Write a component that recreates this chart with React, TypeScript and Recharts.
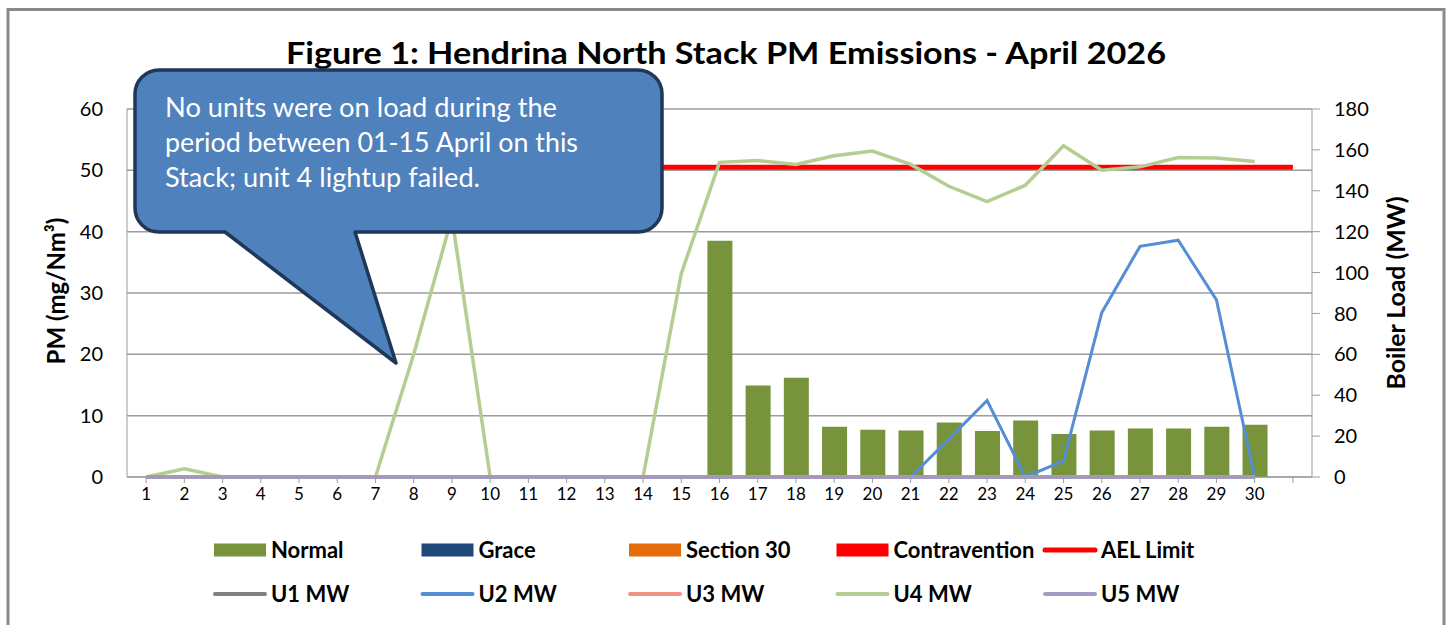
import { ComposedChart, Bar, Line, XAxis, YAxis, CartesianGrid } from 'recharts'

const days = ['1', '2', '3', '4', '5', '6', '7', '8', '9', '10', '11', '12', '13', '14', '15', '16', '17', '18', '19', '20', '21', '22', '23', '24', '25', '26', '27', '28', '29', '30', '']

// PM (mg/Nm3), left axis
const normal = [null, null, null, null, null, null, null, null, null, null, null, null, null, null, null, 38.5, 14.9, 16.2, 8.2, 7.7, 7.6, 8.9, 7.5, 9.2, 7.0, 7.6, 7.9, 7.9, 8.2, 8.5, null]
const grace = [null, null, null, null, null, null, null, null, null, null, null, null, null, null, null, null, null, null, null, null, null, null, null, null, null, null, null, null, null, null, null]
const section30 = [null, null, null, null, null, null, null, null, null, null, null, null, null, null, null, null, null, null, null, null, null, null, null, null, null, null, null, null, null, null, null]
const contravention = [null, null, null, null, null, null, null, null, null, null, null, null, null, null, null, null, null, null, null, null, null, null, null, null, null, null, null, null, null, null, null]
const aelLimit = [50.5, 50.5, 50.5, 50.5, 50.5, 50.5, 50.5, 50.5, 50.5, 50.5, 50.5, 50.5, 50.5, 50.5, 50.5, 50.5, 50.5, 50.5, 50.5, 50.5, 50.5, 50.5, 50.5, 50.5, 50.5, 50.5, 50.5, 50.5, 50.5, 50.5, 50.5]

// boiler load (MW), right axis
const u1 = [0, 0, 0, 0, 0, 0, 0, 0, 0, 0, 0, 0, 0, 0, 0, 0, 0, 0, 0, 0, 0, 0, 0, 0, 0, 0, 0, 0, 0, 0, null]
const u2 = [0, 0, 0, 0, 0, 0, 0, 0, 0, 0, 0, 0, 0, 0, 0, 0, 0, 0, 0, 0, 0, 18.5, 37.4, 0, 7.9, 80.4, 112.8, 115.8, 86.6, 0, null]
const u3 = [0, 0, 0, 0, 0, 0, 0, 0, 0, 0, 0, 0, 0, 0, 0, 0, 0, 0, 0, 0, 0, 0, 0, 0, 0, 0, 0, 0, 0, 0, null]
const u4 = [0, 4, 0, 0, 0, 0, 0, 60, 127, 0, 0, 0, 0, 0, 99.5, 153.9, 154.8, 152.9, 157.1, 159.4, 152.9, 142.2, 134.7, 142.7, 162, 150.1, 151.7, 156.3, 156, 154.3, null]
const u5 = [0, 0, 0, 0, 0, 0, 0, 0, 0, 0, 0, 0, 0, 0, 0, 0, 0, 0, 0, 0, 0, 0, 0, 0, 0, 0, 0, 0, 0, 0, null]

const pmTicks = [0, 10, 20, 30, 40, 50, 60]
const mwTicks = [0, 20, 40, 60, 80, 100, 120, 140, 160, 180]

const title = 'Figure 1: Hendrina North Stack PM Emissions - April 2026'
const calloutLines = ['No units were on load during the', 'period between 01-15 April on this', 'Stack; unit 4 lightup failed.']
const calloutWidths = [392, 413, 315]

const data = days.map((day, i) => ({
  day,
  normal: normal[i],
  grace: grace[i],
  section30: section30[i],
  contravention: contravention[i],
  ael: aelLimit[i],
  u1: u1[i],
  u2: u2[i],
  u3: u3[i],
  u4: u4[i],
  u5: u5[i],
}))

const legendTop = [
  { name: 'Normal', color: '#77933C', kind: 'box' },
  { name: 'Grace', color: '#1F497D', kind: 'box' },
  { name: 'Section 30', color: '#E46C0A', kind: 'box' },
  { name: 'Contravention', color: '#FF0000', kind: 'box' },
  { name: 'AEL Limit', color: '#FF0000', kind: 'line' },
]
const legendBottom = [
  { name: 'U1 MW', color: '#808080', kind: 'line' },
  { name: 'U2 MW', color: '#558ED5', kind: 'line' },
  { name: 'U3 MW', color: '#F39483', kind: 'line' },
  { name: 'U4 MW', color: '#B5CC92', kind: 'line' },
  { name: 'U5 MW', color: '#A69AC4', kind: 'line' },
]

const GRID = '#9c9c9c'

function LegendRow({ items, y }: { items: typeof legendTop; y: number }) {
  return (
    <g>
      {items.map((it, i) => {
        const x = 214 + i * 207.5
        return (
          <g key={it.name}>
            {it.kind === 'box'
              ? <rect x={x} y={y - 6.5} width={52} height={13} fill={it.color} />
              : <line x1={x + 1} x2={x + 51} y1={y} y2={y} stroke={it.color} strokeWidth={it.name === 'AEL Limit' ? 5 : 4} strokeLinecap='round' />}
            <text x={x + 57} y={y + 7.5} fontSize={22} fontWeight={700} fill='#000'>{it.name}</text>
          </g>
        )
      })}
    </g>
  )
}

export default function App() {
  return (
    <div style={{ position: 'relative', width: 1452, height: 625, fontFamily: 'Lato, sans-serif', background: '#fff', overflow: 'hidden' }}>
      <style>{'body{margin:0}'}</style>
      <ComposedChart
        width={1452}
        height={625}
        data={data}
        margin={{ top: 109, right: 80, bottom: 118, left: 67 }}
        style={{ position: 'absolute', left: 0, top: 0 }}
      >
        <CartesianGrid yAxisId='left' vertical={false} stroke={GRID} strokeWidth={1.5} />
        <XAxis
          dataKey='day'
          interval={0}
          height={30}
          tickSize={6}
          tickMargin={5}
          stroke={GRID}
          tick={{ fill: '#000', fontSize: 17 }}
        />
        <YAxis
          yAxisId='left'
          domain={[0, 60]}
          ticks={pmTicks}
          width={60}
          tickSize={0}
          tickMargin={24}
          stroke={GRID}
          tick={{ fill: '#000', fontSize: 20 }}
        />
        <YAxis
          yAxisId='right'
          orientation='right'
          domain={[0, 180]}
          ticks={mwTicks}
          width={60}
          tickSize={8}
          tickMargin={14}
          stroke={GRID}
          tick={{ fill: '#000', fontSize: 20 }}
        />
        <Bar yAxisId='left' dataKey='normal' stackId='pm' barSize={25} fill='#77933C' isAnimationActive={false} />
        <Bar yAxisId='left' dataKey='grace' stackId='pm' barSize={25} fill='#1F497D' isAnimationActive={false} />
        <Bar yAxisId='left' dataKey='section30' stackId='pm' barSize={25} fill='#E46C0A' isAnimationActive={false} />
        <Bar yAxisId='left' dataKey='contravention' stackId='pm' barSize={25} fill='#FF0000' isAnimationActive={false} />
        <Line yAxisId='left' dataKey='ael' stroke='#FF0000' strokeWidth={5} dot={false} activeDot={false} isAnimationActive={false} />
        <Line yAxisId='right' dataKey='u1' stroke='#808080' strokeWidth={3} dot={false} activeDot={false} isAnimationActive={false} />
        <Line yAxisId='right' dataKey='u2' stroke='#558ED5' strokeWidth={3} dot={false} activeDot={false} isAnimationActive={false} />
        <Line yAxisId='right' dataKey='u3' stroke='#F39483' strokeWidth={3} dot={false} activeDot={false} isAnimationActive={false} />
        <Line yAxisId='right' dataKey='u4' stroke='#B5CC92' strokeWidth={3.5} dot={false} activeDot={false} isAnimationActive={false} />
        <Line yAxisId='right' dataKey='u5' stroke='#A69AC4' strokeWidth={4} dot={false} activeDot={false} isAnimationActive={false} />
      </ComposedChart>

      <svg width={1452} height={625} style={{ position: 'absolute', left: 0, top: 0, pointerEvents: 'none' }}>
        <rect x={8} y={9.5} width={1436} height={700} fill='none' stroke='#8a8a8a' strokeWidth={3} />
        <text x={726} y={64} textAnchor='middle' fontSize={31} fontWeight={700} fill='#000' textLength={880} lengthAdjust='spacingAndGlyphs'>{title}</text>
        <text transform='translate(65,291) rotate(-90)' textAnchor='middle' fontSize={24} fontWeight={700} fill='#000'>PM (mg/Nm³)</text>
        <text transform='translate(1405,293) rotate(-90)' textAnchor='middle' fontSize={24} fontWeight={700} fill='#000' textLength={193} lengthAdjust='spacingAndGlyphs'>Boiler Load (MW)</text>

        <path
          d='M 159 70 H 638 A 24 24 0 0 1 662 94 V 208 A 24 24 0 0 1 638 232 H 355 L 396 363 L 225 232 H 159 A 24 24 0 0 1 135 208 V 94 A 24 24 0 0 1 159 70 Z'
          fill='#4F81BD'
          stroke='#1F3759'
          strokeWidth={3.5}
          strokeLinejoin='round'
        />
        {calloutLines.map((t, i) => (
          <text key={t} x={165} y={117 + i * 35} fontSize={27} fill='#fff' textLength={calloutWidths[i]} lengthAdjust='spacingAndGlyphs'>{t}</text>
        ))}

        <LegendRow items={legendTop} y={550} />
        <LegendRow items={legendBottom} y={594} />
      </svg>
    </div>
  )
}
